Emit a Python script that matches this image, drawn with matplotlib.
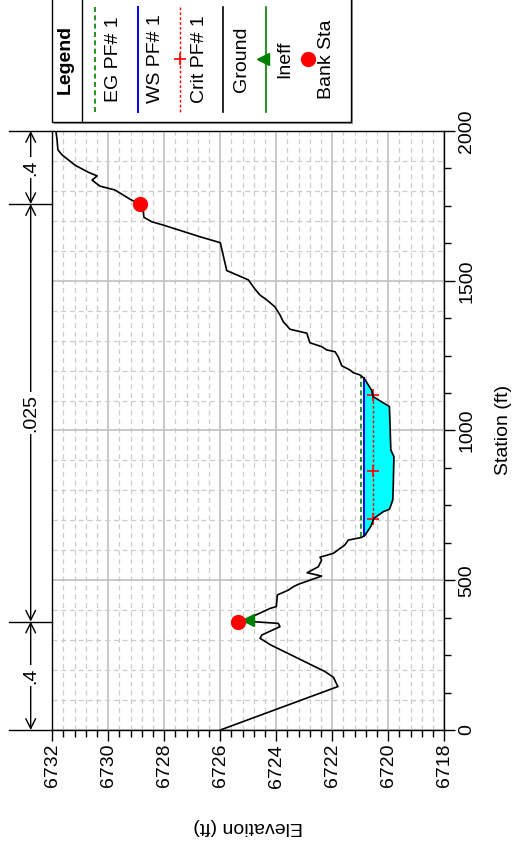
import matplotlib
matplotlib.use("Agg")
import matplotlib.pyplot as plt
import matplotlib.transforms as mtransforms
from matplotlib.patches import Rectangle, FancyArrowPatch
from matplotlib.lines import Line2D
from matplotlib.ticker import MultipleLocator
import numpy as np

plt.rcParams["font.family"] = ["Liberation Sans", "DejaVu Sans"]

# ground profile (station ft, elevation ft)
ground_sta = [0, 145, 176, 195, 284, 306, 317, 345, 356, 362, 378, 406, 412,
              451, 467, 479, 487, 514, 525, 545, 568, 577, 590, 618, 634, 643,
              651, 679, 707, 729, 737, 768, 824, 913, 935, 1080, 1113, 1135,
              1174, 1185, 1193, 1202, 1216, 1246, 1263, 1269, 1280, 1293, 1325,
              1338, 1363, 1386, 1413, 1436, 1452, 1472, 1503, 1534, 1627, 1647,
              1686, 1697, 1712, 1736, 1756, 1772, 1803, 1816, 1836, 1850, 1863,
              1886, 1920, 1937, 1970, 2000]
ground_elev = [6726.0, 6721.8, 6721.96, 6722.26, 6724.2, 6724.58, 6724.52,
               6723.87, 6723.93, 6724.88, 6724.87, 6724.22, 6724.0, 6723.96,
               6723.57, 6723.38, 6723.2, 6722.38, 6722.9, 6722.5, 6722.38,
               6722.44, 6721.96, 6721.55, 6721.43, 6720.95, 6720.83, 6720.63,
               6720.51, 6720.18, 6719.96, 6719.84, 6719.82, 6719.8, 6719.91,
               6719.96, 6720.54, 6720.6, 6720.86, 6721.0, 6721.25, 6721.37,
               6721.66, 6721.79, 6721.9, 6722.2, 6722.38, 6722.8, 6722.91,
               6723.51, 6723.75, 6723.87, 6724.05, 6724.34, 6724.58, 6724.76,
               6725.0, 6725.77, 6726.0, 6726.73, 6728.04, 6728.45, 6728.73,
               6728.75, 6728.87, 6729.22, 6729.76, 6730.3, 6730.58, 6730.4,
               6730.73, 6731.19, 6731.65, 6731.8, 6731.83, 6731.87]

ws_elev = 6720.87
ws_sta = [648, 1174]
eg_elev = 6720.97
eg_sta = [643, 1183]
crit_elev = 6720.55
crit_sta = [700, 1113]
crit_marks = [703, 866, 1118]

bank_sta = [362, 1756]
bank_elev = [6725.35, 6728.87]
ineff_sta = [366]
ineff_elev = [6725.0]

n_breaks = [0, 362, 1756, 2000]
n_values = [".4", ".025", ".4"]

W, H = 522, 847
fig = plt.figure(figsize=(W / 100, H / 100), dpi=100)
ax = fig.add_axes([52.3 / W, (H - 730) / H, 392 / W, 599 / H])

ax.set_xlim(6732, 6718)
ax.set_ylim(0, 2000)

# grid
for i in range(36):
    e = 6718 + 0.4 * i
    if i % 5 == 0:
        ax.axvline(e, color="#c0c0c0", lw=1.2, zorder=0)
    else:
        ax.axvline(e, color="#cccccc", lw=0.9, ls=(0, (4, 3)), zorder=0)
for s in range(0, 2001, 100):
    if s % 500 == 0:
        ax.axhline(s, color="#c0c0c0", lw=1.2, zorder=0)
    else:
        ax.axhline(s, color="#cccccc", lw=0.9, ls=(0, (4, 3)), zorder=0)

gs = np.array(ground_sta, dtype=float)
ge = np.array(ground_elev)
ax.fill_betweenx(gs, ge, ws_elev, where=ge < ws_elev, interpolate=True,
                 color="#00ffff", lw=0, zorder=2)
ax.plot([eg_elev, eg_elev], eg_sta, color="#008000", ls=(0, (3, 2)), lw=1.2, zorder=3)
ax.plot([ws_elev, ws_elev], ws_sta, color="#0000ff", lw=1.4, zorder=3)
ax.plot([crit_elev, crit_elev], crit_sta, color="#ff0000", ls=(0, (2, 1.5)), lw=1.0, zorder=3)
ax.plot([crit_elev] * len(crit_marks), crit_marks, ls="none", marker="+",
        color="#ff0000", ms=8, mew=1.2, zorder=4)
ax.plot(ge, gs, color="black", lw=1.2, zorder=5)
ax.plot(ineff_elev, ineff_sta, ls="none", marker="<", color="#008000", ms=9, zorder=6)
ax.plot(bank_elev, bank_sta, ls="none", marker="o", color="#ff0000", ms=10, zorder=7)

# ticks
ax.xaxis.set_major_locator(MultipleLocator(2))
ax.xaxis.set_minor_locator(MultipleLocator(0.4))
ax.yaxis.set_major_locator(MultipleLocator(500))
ax.yaxis.set_minor_locator(MultipleLocator(125))
ax.yaxis.tick_right()
ax.tick_params(which="major", direction="out", length=8, width=1, labelsize=14, pad=2)
ax.tick_params(which="minor", direction="out", length=5, width=1)
ax.tick_params(axis="x", labelrotation=90)
for lab in ax.get_yticklabels():
    lab.set_rotation(90)
    lab.set_va("center")
for sp in ax.spines.values():
    sp.set_linewidth(1.0)
    sp.set_zorder(8)

def px(x, y):
    return x / W, 1 - y / H

fig.text(*px(248, 826), "Elevation (ft)", rotation=180, ha="center", va="center", fontsize=14)
fig.text(*px(503, 430), "Station (ft)", rotation=90, ha="center", va="center", fontsize=14)

# Manning's n dimension lines
blend = mtransforms.blended_transform_factory(fig.transFigure, ax.transData)
xl = 30.7 / W
for s in n_breaks:
    ax.plot([9 / W, 52.3 / W], [s, s], color="black", lw=1.0, transform=blend, clip_on=False)
for a, b, t in zip(n_breaks[:-1], n_breaks[1:], n_values):
    arr = FancyArrowPatch((xl, a), (xl, b), arrowstyle="<->,head_length=0.7,head_width=0.35",
                          mutation_scale=10, lw=1.0, color="black", transform=blend,
                          shrinkA=0, shrinkB=0)
    arr.set_clip_on(False)
    ax.add_patch(arr)
    ax.text(xl, (a + b) / 2, t, transform=blend, rotation=90, ha="center", va="center",
            fontsize=14, bbox=dict(facecolor="white", edgecolor="none", pad=1.5), clip_on=False)

# legend box
x0, x1 = 52, 351
y0, y1 = -5, 122
fig.add_artist(Rectangle(px(x0 + 2, y1 + 2), (x1 - x0) / W, (y1 - y0) / H,
                         transform=fig.transFigure, facecolor="#a0a0a0", edgecolor="none"))
fig.add_artist(Rectangle(px(x0, y1), (x1 - x0) / W, (y1 - y0) / H,
                         transform=fig.transFigure, facecolor="white", edgecolor="black", lw=1.0))
fig.add_artist(Line2D([82 / W, 82 / W], [1, 1 - y1 / H], transform=fig.transFigure,
                      color="black", lw=1.0))
fig.text(*px(65, 59), "Legend", rotation=90, ha="center", va="center", fontsize=14,
         fontweight="bold")

ly = [1 - 7 / H, 1 - 112 / H]
cy = 1 - 59 / H
entries = [
    (95, dict(color="#008000", ls=(0, (3, 2)), lw=1.2), None, 113.5, "EG PF# 1"),
    (138, dict(color="#0000ff", lw=1.4), None, 156, "WS PF# 1"),
    (180, dict(color="#ff0000", ls=(0, (2, 1.5)), lw=1.0), "+", 199, "Crit PF# 1"),
    (223, dict(color="black", lw=1.2), None, 241.7, "Ground"),
    (266, dict(color="#008000", lw=1.2), "<", 285, "Ineff"),
    (None, None, "o", 326.7, "Bank Sta"),
]
for lx, style, mk, tx, label in entries:
    if lx is not None:
        fig.add_artist(Line2D([lx / W, lx / W], ly, transform=fig.transFigure, **style))
    if mk == "+":
        fig.add_artist(Line2D([180 / W], [cy], transform=fig.transFigure, ls="none",
                              marker="+", color="#ff0000", ms=8, mew=1.2))
    elif mk == "<":
        fig.add_artist(Line2D([263 / W], [cy], transform=fig.transFigure, ls="none",
                              marker="<", color="#008000", ms=9))
    elif mk == "o":
        fig.add_artist(Line2D([308 / W], [cy], transform=fig.transFigure, ls="none",
                              marker="o", color="#ff0000", ms=10))
    fig.text(tx / W, cy, label, rotation=90, ha="center", va="center", fontsize=14)

fig.savefig("out.png", dpi=100)
